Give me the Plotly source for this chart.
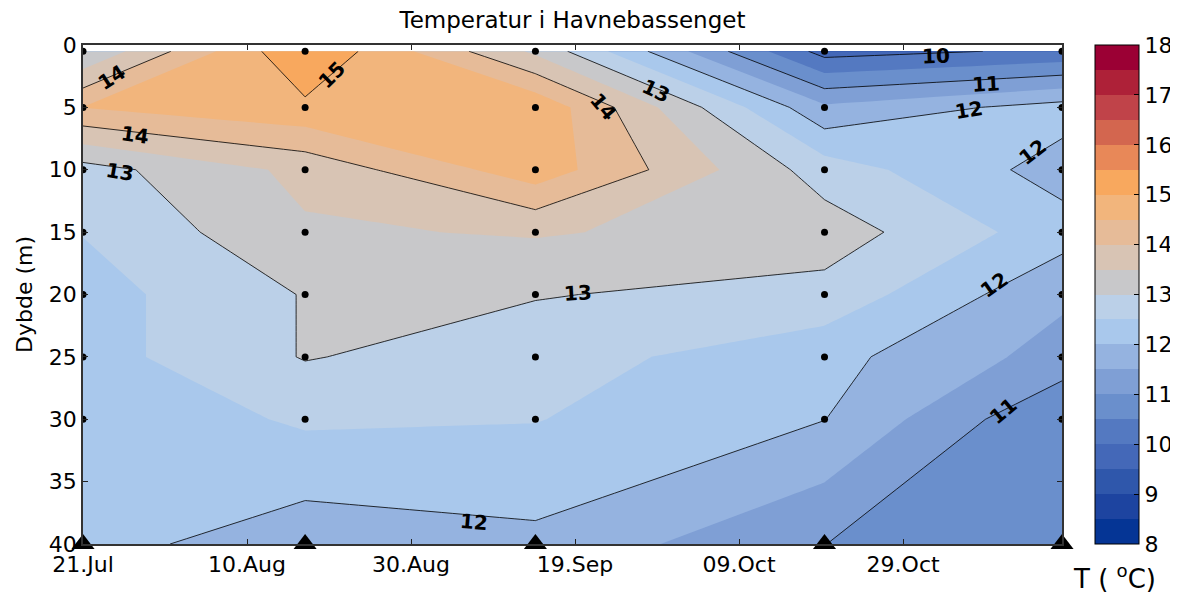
import plotly.graph_objects as go

# ---------------- data ----------------
dates = ["2011-07-21 00:00", "2011-08-17 02:00", "2011-09-14 04:00",
         "2011-10-19 10:00", "2011-11-17 09:00"]
depths = [0.5, 5, 10, 15, 20, 25, 30, 40]

# temperature profiles (deg C) per sampling date, top to bottom
t_jul21 = [13.03, 14.51, 12.80, 12.52, 12.29, 12.29, 12.09, 12.20]
t_aug17 = [15.48, 14.89, 13.64, 13.43, 13.03, 13.03, 12.58, 11.69]
t_sep14 = [13.40, 14.90, 14.80, 13.55, 13.03, 12.72, 12.52, 11.88]
t_oct19 = [9.80, 11.60, 12.76, 13.26, 12.83, 12.17, 12.01, 11.003]
t_nov17 = [10.10, 12.21, 11.79, 12.22, 11.60, 11.30, 10.52, 10.70]

sample_depths = [0.5, 5, 10, 15, 20, 25, 30]
bottom_depth = 40

cbar_ticks = [8, 9, 10, 11, 12, 13, 14, 15, 16, 17, 18]
band_colors = ["#053595", "#1d44a0", "#2f57ab", "#4468b8", "#5479c1",
               "#6a8fcc", "#7f9fd5", "#95b3e0", "#a9c8ec", "#bbd0e8",
               "#c8c8ca", "#d8c4b4", "#e6bb98", "#f2b57c", "#f8a85e",
               "#e88858", "#d3664f", "#c04349", "#ae2138", "#9b0034"]

# contour-line labels (text, date, depth, rotation) as placed in the reference
label_text = ["14", "15", "14", "13", "13", "14", "13",
              "10", "11", "12", "12", "12", "11", "12"]
label_x = ["2011-07-24 14:00", "2011-08-20 08:00", "2011-07-27 09:00",
           "2011-07-25 13:00", "2011-09-28 22:00", "2011-09-22 11:00",
           "2011-09-19 10:00", "2011-11-02 00:00", "2011-11-08 02:00",
           "2011-11-06 00:00", "2011-11-13 19:00", "2011-11-09 01:00",
           "2011-11-10 04:00", "2011-09-06 15:00"]
label_y = [2.6, 2.4, 7.2, 10.2, 3.7, 5.0, 19.9, 0.9, 3.1, 5.2, 8.6, 19.2, 29.3, 38.2]
label_angle = [-33, -45, 8, 10, 25, 50, -3, -2, -3, -9, -38, -35, -40, 5]

profiles = [t_jul21, t_aug17, t_sep14, t_oct19, t_nov17]
z = [[p[i] for p in profiles] for i in range(len(depths))]

# step colorscale
n = len(band_colors)
cscale = []
for i, c in enumerate(band_colors):
    cscale.append([i / n, c])
    cscale.append([(i + 1) / n, c])

FONT = "DejaVu Sans, Liberation Sans, Arial, sans-serif"

# the page body has an 8px default margin: figure is sized to fit the window
W, H = 1170, 586

fig = go.Figure()

fig.add_trace(go.Contour(
    x=dates, y=depths, z=z,
    zmin=8, zmax=18, autocontour=False,
    contours=dict(start=8, end=18, size=0.5, coloring="fill", showlines=False),
    line=dict(width=0, smoothing=0),
    colorscale=cscale,
    hoverinfo="skip",
    colorbar=dict(
        x=1.0337, xanchor="left", xpad=0, ypad=0,
        y=0.5, yanchor="middle", len=1, lenmode="fraction",
        thickness=44, thicknessmode="pixels",
        outlinewidth=1, outlinecolor="black",
        tickmode="array", tickvals=cbar_ticks,
        ticks="inside", ticklen=5, tickcolor="black",
        tickfont=dict(size=22, color="black", family=FONT),
    ),
))

fig.add_trace(go.Contour(
    x=dates, y=depths, z=z,
    autocontour=False,
    contours=dict(start=10, end=15, size=1, coloring="none", showlabels=False),
    line=dict(color="black", width=0.8, smoothing=0),
    showscale=False, hoverinfo="skip",
))

# sample points
px, py = [], []
for d in dates:
    for dep in sample_depths:
        px.append(d)
        py.append(dep)
fig.add_trace(go.Scatter(x=px, y=py, mode="markers",
                         marker=dict(color="black", size=7),
                         hoverinfo="skip", showlegend=False))
fig.add_trace(go.Scatter(x=dates, y=[bottom_depth] * len(dates), mode="markers",
                         marker=dict(color="black", size=20, symbol="triangle-up"),
                         cliponaxis=False, hoverinfo="skip", showlegend=False))

annots = []
for t, lx, ly, ang in zip(label_text, label_x, label_y, label_angle):
    annots.append(dict(text="<b>%s</b>" % t, x=lx, y=ly, xref="x", yref="y",
                       textangle=ang, showarrow=False,
                       font=dict(size=20, color="black", family=FONT)))
annots.append(dict(
    text="T ( <sup>o</sup>C)", x=1.054, y=-0.066, xref="paper", yref="paper",
    xanchor="center", yanchor="middle", showarrow=False,
    font=dict(size=26, color="black", family=FONT)))

fig.update_layout(
    width=W, height=H,
    margin=dict(l=75, r=116, t=37, b=50, autoexpand=False),
    paper_bgcolor="white", plot_bgcolor="white",
    showlegend=False,
    font=dict(family=FONT, color="black"),
    title=dict(text="Temperatur i Havnebassenget", x=0.5, xref="paper",
               xanchor="center", y=1 - 12 / H, yref="container",
               yanchor="middle", font=dict(size=23, color="black", family=FONT)),
    xaxis=dict(
        type="date", range=[dates[0], dates[-1]],
        tick0="2011-07-21", dtick=20 * 86400000, tickformat="%d.%b",
        ticks="inside", ticklen=5, tickcolor="#222",
        showline=True, linecolor="#333", linewidth=1.5, mirror="ticks",
        showgrid=False, zeroline=False,
        tickfont=dict(size=22, color="black", family=FONT),
    ),
    yaxis=dict(
        range=[40, 0], tickmode="array", tickvals=[0, 5, 10, 15, 20, 25, 30, 35, 40],
        ticks="inside", ticklen=5, tickcolor="#222",
        showline=True, linecolor="#333", linewidth=1.5, mirror="ticks",
        showgrid=False, zeroline=False,
        tickfont=dict(size=22, color="black", family=FONT),
        title=dict(text="Dybde (m)", standoff=10,
                   font=dict(size=22, color="black", family=FONT)),
    ),
    annotations=annots,
)

fig.write_html("out.html")
